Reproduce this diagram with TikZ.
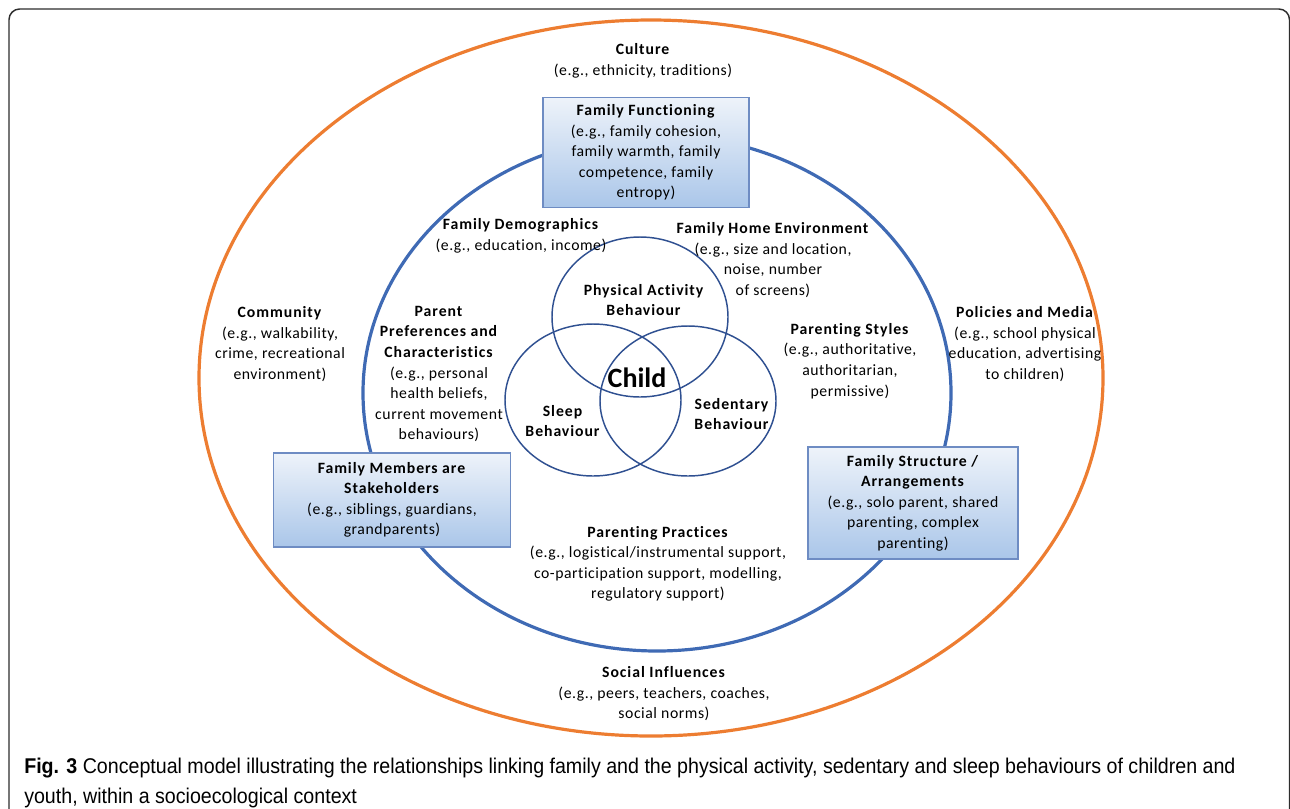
\documentclass[tikz,border=0pt]{standalone}
\usepackage{fontspec}
\setmainfont{Carlito}[Ligatures=NoCommon, LetterSpace=3.5, BoldFeatures={LetterSpace=6}]
\newfontfamily\childfont{Carlito}[Ligatures=NoCommon]
\newfontfamily\capfont[FakeStretch=0.92]{Liberation Sans}
\definecolor{orangeline}{RGB}{237,125,49}
\definecolor{blueline}{RGB}{63,106,180}
\definecolor{venn}{RGB}{47,80,145}
\definecolor{boxborder}{RGB}{110,140,195}
\definecolor{boxtop}{RGB}{238,243,250}
\definecolor{boxbot}{RGB}{170,198,233}
\definecolor{framecol}{RGB}{45,45,45}
\tikzset{
  lbl/.style={align=center, font=\fontsize{11.8}{15.4}\selectfont, inner sep=0pt},
  fambox/.style={draw=boxborder, line width=0.8pt, top color=boxtop, bottom color=boxbot,
    align=center, font=\fontsize{11.8}{15.4}\selectfont, inner sep=0pt},
  vennc/.style={draw=venn, line width=1.1pt},
  captext/.style={anchor=base west, inner sep=0pt, font=\capfont\fontsize{16}{20}\selectfont},
}
\begin{document}
\begin{tikzpicture}[x=0.75pt, y=-0.75pt]
\useasboundingbox (0,0) rectangle (1290,808);
\begin{scope}
\clip (0,0) rectangle (1290,808);
\draw[framecol, line width=1.1pt, rounded corners=8pt] (9,9) rectangle (1289.5,840);
\end{scope}
% outer and inner ellipses
\draw[orangeline, line width=2.4pt] (651,378) ellipse [x radius=452, y radius=358];
\draw[blueline, line width=2.4pt] (657,393) ellipse [x radius=294, y radius=258];
% Venn
\draw[vennc] (640,317) ellipse [x radius=88, y radius=80];
\draw[vennc] (593,400) ellipse [x radius=88, y radius=76];
\draw[vennc] (688,401) ellipse [x radius=88, y radius=75];
% boxes
\node[fambox, minimum width=154.5pt, minimum height=83pt] (ff) at (646,152.5)
  {\textbf{Family Functioning}\\(e.g., family cohesion,\\family warmth, family\\competence, family\\entropy)};
\node[fambox, minimum width=178pt, minimum height=70.5pt] (fm) at (392,500)
  {\textbf{Family Members are}\\\textbf{Stakeholders}\\(e.g., siblings, guardians,\\grandparents)};
\node[fambox, minimum width=157.5pt, minimum height=84pt] (fs) at (913,503)
  {\textbf{Family Structure /}\\\textbf{Arrangements}\\(e.g., solo parent, shared\\parenting, complex\\parenting)};
% labels
\node[lbl] (cult) at (643,61) {\textbf{Culture}\\(e.g., ethnicity, traditions)};
\node[lbl] (fd) at (521,236) {\textbf{Family Demographics}\\(e.g., education, income)};
\node[lbl] (fh) at (773,260) {\textbf{Family Home Environment}\\(e.g., size and location,\\noise, number\\of screens)};
\node[lbl] (comm) at (280,344) {\textbf{Community}\\(e.g., walkability,\\crime, recreational\\environment)};
\node[lbl] (pp) at (439,374) {\textbf{Parent}\\\textbf{Preferences and}\\\textbf{Characteristics}\\(e.g., personal\\health beliefs,\\current movement\\behaviours)};
\node[lbl] (pa) at (644,300) {\textbf{Physical Activity}\\\textbf{Behaviour}};
\node[inner sep=0pt, font=\childfont\fontsize{21}{24}\selectfont\bfseries] (child) at (637,378) {Child};
\node[lbl] (sl) at (563,421) {\textbf{Sleep}\\\textbf{Behaviour}};
\node[lbl] (sd) at (732,414) {\textbf{Sedentary}\\\textbf{Behaviour}};
\node[lbl] (ps) at (850,361) {\textbf{Parenting Styles}\\(e.g., authoritative,\\authoritarian,\\permissive)};
\node[lbl] (pm) at (1025,344) {\textbf{Policies and Media}\\(e.g., school physical\\education, advertising\\to children)};
\node[lbl] (prac) at (658,564) {\textbf{Parenting Practices}\\(e.g., logistical/instrumental support,\\co-participation support, modelling,\\regulatory support)};
\node[lbl] (soc) at (664,694) {\textbf{Social Influences}\\(e.g., peers, teachers, coaches,\\social norms)};
% caption
\node[captext] (cap1) at (24,773)
  {\textbf{Fig. 3} Conceptual model illustrating the relationships linking family and the physical activity, sedentary and sleep behaviours of children and};
\node[captext] (cap2) at (24,803)
  {youth, within a socioecological context};
\end{tikzpicture}
\end{document}
